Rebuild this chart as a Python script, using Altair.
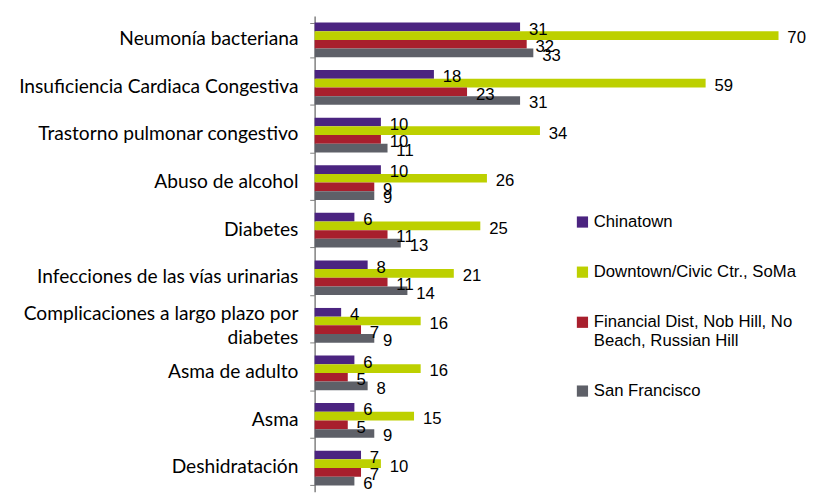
import altair as alt
import pandas as pd

categories = [
    "Neumonía bacteriana",
    "Insuficiencia Cardiaca Congestiva",
    "Trastorno pulmonar congestivo",
    "Abuso de alcohol",
    "Diabetes",
    "Infecciones de las vías urinarias",
    "Complicaciones a largo plazo por diabetes",
    "Asma de adulto",
    "Asma",
    "Deshidratación",
]
series = [
    "Chinatown",
    "Downtown/Civic Ctr., SoMa",
    "Financial Dist, Nob Hill, No Beach, Russian Hill",
    "San Francisco",
]
chinatown = [31, 18, 10, 10, 6, 8, 4, 6, 6, 7]
downtown = [70, 59, 34, 26, 25, 21, 16, 16, 15, 10]
financial = [32, 23, 10, 9, 11, 11, 7, 5, 5, 7]
san_francisco = [33, 31, 11, 9, 13, 14, 9, 8, 9, 6]
colors = ["#4B2480", "#BDD000", "#A81F2D", "#5E6068"]

rows = []
for s_i, (name, vals) in enumerate(zip(series, [chinatown, downtown, financial, san_francisco])):
    for c, v in zip(categories, vals):
        rows.append({"categoria": c, "serie": name, "orden": s_i, "valor": v})
df = pd.DataFrame(rows)

two_line = "Complicaciones a largo plazo por diabetes"

y_enc = alt.Y(
    "categoria:N",
    sort=categories,
    title=None,
    scale=alt.Scale(paddingInner=0.27, paddingOuter=0.135),
    axis=alt.Axis(
        tickBand="extent",
        tickSize=5,
        tickColor="#7f7f7f",
        domainColor="#7f7f7f",
        domainWidth=1.5,
        labelFont="Lato",
        labelFontSize=19.5,
        labelColor="#000000",
        labelPadding=12,
        labelLimit=400,
        labelLineHeight=25,
        labelOffset={"condition": {"test": f"datum.value == '{two_line}'", "value": -12}, "value": -1},
        labelExpr=f"datum.label == '{two_line}' ? ['Complicaciones a largo plazo por', 'diabetes'] : datum.label",
    ),
)
yoff = alt.YOffset("serie:N", sort=series)
x_enc = alt.X("valor:Q", scale=alt.Scale(domain=[0, 70]), axis=None)

bars = alt.Chart(df).mark_bar().encode(
    y=y_enc,
    yOffset=yoff,
    x=x_enc,
    color=alt.Color(
        "serie:N",
        sort=series,
        scale=alt.Scale(domain=series, range=colors),
        legend=alt.Legend(
            title=None,
            orient="none",
            legendX=264,
            legendY=201,
            symbolType="square",
            symbolSize=130,
            symbolStrokeWidth=0,
            labelFont="Liberation Sans",
            labelFontSize=17,
            labelColor="#000000",
            labelLimit=300,
            rowPadding=33,
            labelOffset=3,
            labelExpr="datum.label == 'Financial Dist, Nob Hill, No Beach, Russian Hill' ? ['Financial Dist, Nob Hill, No', 'Beach, Russian Hill'] : datum.label",
        ),
    ),
)

labels = alt.Chart(df).mark_text(
    align="left", baseline="middle", dx=9, dy=3,
    font="Liberation Sans", fontSize=17, color="#000000",
).encode(
    y=alt.Y("categoria:N", sort=categories),
    yOffset=yoff,
    x=x_enc,
    text="valor:Q",
)

chart = alt.layer(bars, labels).properties(
    width=472,
    height=484,
    autosize=alt.AutoSizeParams(type="none"),
    padding={"left": 312, "top": 4, "right": 30, "bottom": 0},
).configure_view(stroke=None)

chart.save("out.html", embed_options={"renderer": "svg", "actions": False})
